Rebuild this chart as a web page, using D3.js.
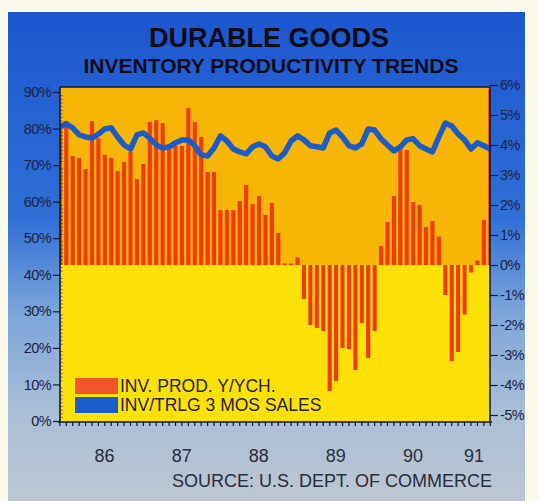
<!DOCTYPE html>
<html>
<head>
<meta charset="utf-8">
<script src="https://cdn.jsdelivr.net/npm/d3@7"></script>
<style>
  body { margin: 0; background: #fbfaec; }
  svg { display: block; font-family: "Liberation Sans", Arial, Helvetica, sans-serif; }
</style>
</head>
<body>
<svg id="chart" width="539" height="501"></svg>
<script>
// Monthly observations, Dec 1985 through Jul 1991
const firstMonth = new Date(1985, 11, 1);
const lastMonth = new Date(1991, 6, 1);

// Inventory productivity, year-over-year change (%), right axis
const invProdYoY = [
  4.6, 4.8, 3.63, 3.57, 3.2, 4.8, 4.23, 3.67, 3.57, 3.13, 3.43, 3.77,
  2.87, 3.37, 4.77, 4.83, 4.73, 3.87, 3.97, 3.97, 5.23, 4.77, 4.27, 3.1,
  3.1, 1.83, 1.83, 1.83, 2.13, 2.67, 2.03, 2.3, 1.67, 2.07, 1.07, 0.05,
  0.05, 0.25, -1.13, -2.0, -2.1, -2.2, -4.2, -3.87, -2.77, -2.8, -3.5, -1.93,
  -3.1, -2.2, 0.63, 1.43, 2.3, 3.9, 3.83, 2.1, 2.0, 1.27, 1.47, 0.95,
  -1.0, -3.2, -2.9, -1.65, -0.25, 0.15, 1.5, 5.87
];

// Inventory to trailing 3-month sales ratio (%), left axis
const invToSales = [
  80.4, 81.3, 80.2, 78.3, 77.7, 77.4, 78.5, 79.9, 80.2, 77.7, 75.5, 74.4,
  78.3, 78.8, 77.4, 75.5, 74.7, 75.0, 76.1, 76.9, 76.9, 75.3, 72.8, 72.5,
  74.7, 78.0, 76.6, 74.4, 73.6, 73.1, 75.0, 75.8, 75.0, 72.5, 71.7, 73.4,
  76.6, 78.0, 76.9, 75.3, 75.0, 74.7, 78.8, 79.6, 77.7, 75.3, 74.7, 75.8,
  79.9, 79.6, 77.2, 75.5, 73.9, 75.0, 76.9, 77.2, 75.3, 74.4, 73.6, 77.7,
  81.5, 80.7, 78.5, 76.9, 74.4, 76.1, 75.3, 74.4
];

const leftTicks = [0, 10, 20, 30, 40, 50, 60, 70, 80, 90];
const rightTicks = [-5, -4, -3, -2, -1, 0, 1, 2, 3, 4, 5, 6];
const yearLabels = ["86", "87", "88", "89", "90", "91"];
const legendLabels = ["INV. PROD. Y/YCH.", "INV/TRLG 3 MOS SALES"];
const titleText = "DURABLE GOODS";
const subtitleText = "INVENTORY PRODUCTIVITY TRENDS";
const sourceText = "SOURCE: U.S. DEPT. OF COMMERCE";

const months = d3.timeMonth.range(firstMonth, d3.timeMonth.offset(lastMonth, 1));

const svg = d3.select("#chart");
const W = 539, H = 501;

// Frame
const plot = { left: 60, right: 490, top: 87, bottom: 421 };

const defs = svg.append("defs");
const grad = defs.append("linearGradient")
  .attr("id", "cardFill").attr("x1", 0).attr("y1", 0).attr("x2", 0).attr("y2", 1);
[["0%", "#1c56cf"], ["42%", "#2f6fd6"], ["62%", "#7ea6da"], ["82%", "#aabed6"], ["100%", "#bcc6d2"]]
  .forEach(([o, c]) => grad.append("stop").attr("offset", o).attr("stop-color", c));

defs.append("clipPath").attr("id", "plotClip")
  .append("rect")
  .attr("x", plot.left).attr("y", plot.top)
  .attr("width", plot.right - plot.left).attr("height", plot.bottom - plot.top);

// Card background
svg.append("rect").attr("x", 8).attr("y", 12).attr("width", 517).attr("height", H - 12)
  .attr("fill", "url(#cardFill)");

// Scales
const x = d3.scaleBand()
  .domain(months)
  .range([57.8, 57.8 + months.length * 6.39])
  .paddingInner(0.36)
  .paddingOuter(0);
const yLeft = d3.scaleLinear().domain([0, 90]).range([421, 92]);
const yRight = d3.scaleLinear().domain([-5, 6]).range([415, 85]);

// Plot background: orange above the zero line, yellow below
svg.append("rect")
  .attr("x", plot.left).attr("y", plot.top)
  .attr("width", plot.right - plot.left).attr("height", yRight(0) - plot.top)
  .attr("fill", "#f7b505");
svg.append("rect")
  .attr("x", plot.left).attr("y", yRight(0))
  .attr("width", plot.right - plot.left).attr("height", plot.bottom - yRight(0))
  .attr("fill", "#ffe10a");

const g = svg.append("g").attr("clip-path", "url(#plotClip)");

// Bars
g.selectAll("rect.bar")
  .data(months)
  .join("rect")
  .attr("class", "bar")
  .attr("x", d => x(d))
  .attr("width", x.bandwidth())
  .attr("y", (d, i) => Math.min(yRight(invProdYoY[i]), yRight(0)))
  .attr("height", (d, i) => Math.abs(yRight(invProdYoY[i]) - yRight(0)))
  .attr("fill", "#f03a12");

// Ratio line
const line = d3.line()
  .x((d, i) => x(months[i]) + x.bandwidth() / 2)
  .y(d => yLeft(d))
  .curve(d3.curveLinear);
g.append("path")
  .datum(invToSales)
  .attr("d", line)
  .attr("fill", "none")
  .attr("stroke", "#1b5cc8")
  .attr("stroke-width", 5.5)
  .attr("stroke-linejoin", "round")
  .attr("stroke-linecap", "round");

// Axes
const axisColor = "#12183a";
const labelColor = "#1d2444";

const leftAxis = svg.append("g")
  .attr("transform", `translate(${plot.left},0)`)
  .call(d3.axisLeft(yLeft).tickValues(leftTicks).tickFormat(d => d + "%").tickSize(7).tickPadding(2));
leftAxis.select(".domain").attr("d", `M0,${plot.top}V${plot.bottom + 2}`);

// Minor ticks on the left axis every 1%
svg.append("g").selectAll("line")
  .data(d3.range(0, 91, 1).filter(v => v % 10 !== 0))
  .join("line")
  .attr("x1", plot.left).attr("x2", plot.left + 3)
  .attr("y1", d => yLeft(d)).attr("y2", d => yLeft(d))
  .attr("stroke", axisColor).attr("stroke-width", 0.7).attr("opacity", 0.7);

const rightAxis = svg.append("g")
  .attr("transform", `translate(${plot.right},0)`)
  .call(d3.axisRight(yRight).tickValues(rightTicks).tickFormat(d => d + "%").tickSize(8).tickPadding(2));
rightAxis.select(".domain").attr("d", `M0,${plot.top}V${plot.bottom}`);

const bottomAxis = svg.append("g")
  .attr("transform", `translate(0,${plot.bottom + 1})`)
  .call(d3.axisBottom(x).tickValues(months).tickFormat("").tickSize(4));
bottomAxis.select(".domain").attr("d", `M${plot.left - 2},0H${plot.right + 2}`);

[leftAxis, rightAxis, bottomAxis].forEach(a => {
  a.select(".domain").attr("stroke", axisColor).attr("stroke-width", 1.6);
  a.selectAll(".tick line").attr("stroke", axisColor).attr("stroke-width", 1.2);
  a.selectAll(".tick text")
    .attr("fill", labelColor)
    .attr("font-size", 14.5)
    .attr("font-family", "'Liberation Sans', Arial, sans-serif")
    .attr("letter-spacing", "-0.6");
});

// Top border of the plot
svg.append("line")
  .attr("x1", plot.left).attr("x2", plot.right)
  .attr("y1", plot.top).attr("y2", plot.top)
  .attr("stroke", axisColor).attr("stroke-width", 1.6);

// Year labels, centred under each year's months
const years = d3.groups(months, d => d.getFullYear()).filter(([yr]) => yr >= 1986);
svg.append("g").selectAll("text")
  .data(years)
  .join("text")
  .attr("x", ([, ms]) => (x(ms[0]) + x(ms[ms.length - 1]) + x.bandwidth()) / 2 + 3)
  .attr("y", 462)
  .attr("text-anchor", "middle")
  .attr("font-size", 18)
  .attr("fill", "#2a2d3a")
  .text((d, i) => yearLabels[i]);

// Titles
svg.append("text")
  .attr("x", 269).attr("y", 47)
  .attr("text-anchor", "middle")
  .attr("font-size", 27).attr("font-weight", "bold")
  .attr("fill", "#0c0c18")
  .text(titleText);
svg.append("text")
  .attr("x", 271).attr("y", 73)
  .attr("text-anchor", "middle")
  .attr("font-size", 21).attr("font-weight", "bold")
  .attr("fill", "#0c0c18")
  .text(subtitleText);

// Source line
svg.append("text")
  .attr("x", 332).attr("y", 487)
  .attr("text-anchor", "middle")
  .attr("font-size", 18)
  .attr("fill", "#2a2d3a")
  .text(sourceText);

// Legend
const legend = svg.append("g");
const legendColors = ["#f2552a", "#1b5cc8"];
const legendRows = [378, 397];
legend.selectAll("rect")
  .data(legendLabels)
  .join("rect")
  .attr("x", 75).attr("y", (d, i) => legendRows[i])
  .attr("width", 43).attr("height", 16)
  .attr("fill", (d, i) => legendColors[i]);
legend.selectAll("text")
  .data(legendLabels)
  .join("text")
  .attr("x", 120).attr("y", (d, i) => legendRows[i] + 14)
  .attr("font-size", 17.5)
  .attr("fill", "#22232c")
  .text(d => d);
</script>
</body>
</html>
